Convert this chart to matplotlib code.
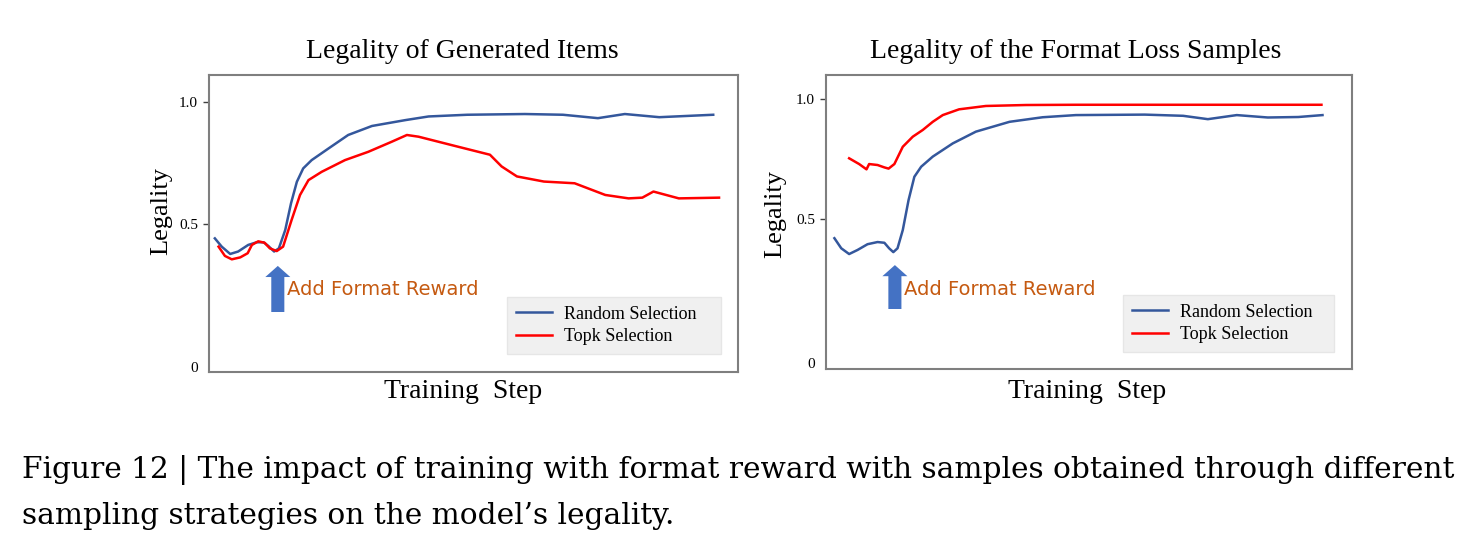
import matplotlib
matplotlib.use("Agg")
import matplotlib.pyplot as plt

# x in arbitrary training-step units (0..100 across the box)
left_rand_x = [1.1, 2.4, 4.0, 5.5, 7.4, 9.0, 10.3, 11.2, 12.3, 13.2, 14.4, 15.5, 16.6,
               17.8, 19.4, 22.6, 26.3, 30.8, 37.1, 41.5, 48.8, 59.7, 66.9, 73.5, 78.6,
               85.1, 95.3]
left_rand_y = [0.441, 0.407, 0.377, 0.387, 0.414, 0.425, 0.425, 0.410, 0.387, 0.400,
               0.475, 0.585, 0.673, 0.728, 0.762, 0.810, 0.865, 0.902, 0.926, 0.941,
               0.948, 0.951, 0.948, 0.934, 0.951, 0.938, 0.948]
left_topk_x = [1.8, 3.0, 4.3, 5.9, 7.3, 8.1, 9.3, 10.5, 11.5, 12.8, 14.0, 15.6, 17.2,
               18.8, 21.3, 25.7, 30.1, 34.5, 37.4, 39.6, 46.5, 53.1, 55.3, 58.2, 63.3,
               69.1, 74.9, 79.3, 81.9, 84.0, 88.8, 96.4]
left_topk_y = [0.407, 0.369, 0.355, 0.363, 0.380, 0.414, 0.429, 0.423, 0.400, 0.389,
               0.407, 0.516, 0.619, 0.680, 0.714, 0.762, 0.796, 0.837, 0.865, 0.858,
               0.820, 0.784, 0.736, 0.695, 0.674, 0.667, 0.619, 0.605, 0.608, 0.633,
               0.605, 0.608]

right_rand_x = [1.6, 2.9, 4.4, 6.0, 7.9, 9.8, 11.1, 12.0, 12.8, 13.6, 14.6, 15.7, 16.8,
                18.1, 20.3, 24.1, 28.5, 34.9, 41.2, 47.5, 60.6, 67.9, 72.6, 78.1, 84.0,
                89.8, 94.4]
right_rand_y = [0.420, 0.378, 0.354, 0.371, 0.395, 0.404, 0.401, 0.378, 0.362, 0.378,
                0.454, 0.579, 0.676, 0.718, 0.760, 0.815, 0.864, 0.905, 0.924, 0.933,
                0.935, 0.930, 0.916, 0.933, 0.923, 0.925, 0.933]
right_topk_x = [4.4, 6.3, 7.7, 8.2, 9.8, 11.1, 11.9, 13.0, 14.6, 16.5, 18.4, 20.3, 22.2,
                25.3, 30.4, 38.0, 47.5, 75.2, 94.2]
right_topk_y = [0.753, 0.729, 0.707, 0.729, 0.725, 0.715, 0.710, 0.729, 0.801, 0.843,
                0.871, 0.905, 0.933, 0.957, 0.971, 0.975, 0.976, 0.976, 0.976]

titles = ["Legality of Generated Items", "Legality of the Format Loss Samples"]
series_names = ["Random Selection", "Topk Selection"]
caption1 = ("Figure 12 | The impact of training with format reward with samples "
            "obtained through different")
caption2 = "sampling strategies on the model\u2019s legality."

blue = "#34579c"
red = "#ff0000"
arrow_blue = "#4472c4"
note_color = "#c55a11"
serif = "Liberation Serif"

fig = plt.figure(figsize=(14.7, 5.42), dpi=100)
ax1 = fig.add_axes([0.1422, 0.3137, 0.3599, 0.5479])
ax2 = fig.add_axes([0.5619, 0.3192, 0.3578, 0.5424])

panels = [
    (ax1, left_rand_x, left_rand_y, left_topk_x, left_topk_y, (-0.107, 1.111), -0.085,
     (13.0, 0.328, 0.139), (14.7, 0.23), (0.563, 0.064, 0.405, 0.185)),
    (ax2, right_rand_x, right_rand_y, right_topk_x, right_topk_y, (-0.125, 1.1), -0.1,
     (13.1, 0.308, 0.125), (14.8, 0.208), (0.565, 0.058, 0.401, 0.194)),
]

for ax, rx, ry, tx, ty, ylim, zero_pos, arr, note, leg_box in panels:
    ax.plot(rx, ry, color=blue, lw=1.8, label=series_names[0], solid_joinstyle="round")
    ax.plot(tx, ty, color=red, lw=1.8, label=series_names[1], solid_joinstyle="round")
    ax.set_xlim(0, 100)
    ax.set_ylim(*ylim)
    ax.set_xticks([])
    ax.set_yticks([zero_pos, 0.5, 1.0], ["0", "0.5", "1.0"])
    ax.tick_params(axis="y", length=4.3, width=1, color="#404040", pad=3.6,
                   labelsize=11)
    ax.yaxis.get_major_ticks()[0].tick1line.set_visible(False)
    for lab in ax.get_yticklabels():
        lab.set_fontfamily(serif)
    for sp in ax.spines.values():
        sp.set_color("#7f7f7f")
        sp.set_linewidth(1.5)

    ax.annotate("", xy=(arr[0], arr[1]), xytext=(arr[0], arr[2]),
                arrowprops=dict(arrowstyle="simple,head_length=8,head_width=18,tail_width=9.4",
                                mutation_scale=1, color=arrow_blue, shrinkA=0, shrinkB=0, lw=0))
    ax.text(note[0], note[1], "Add Format Reward", color=note_color, fontsize=14,
            family="DejaVu Sans", va="center", ha="left")

    leg = ax.legend(loc="center", bbox_to_anchor=leg_box, mode="expand",
                    prop={"family": serif, "size": 13}, frameon=True, fancybox=False,
                    handlelength=2.0, handletextpad=0.65, labelspacing=0.3,
                    borderpad=0.5, borderaxespad=0)
    leg.get_frame().set_facecolor("#f0f0f0")
    leg.get_frame().set_edgecolor("#e6e6e6")
    leg.get_frame().set_alpha(1)

fig.text(462 / 1470, 1 - 52 / 542, titles[0], ha="center", va="center",
         family=serif, fontsize=20)
fig.text(1076 / 1470, 1 - 52 / 542, titles[1], ha="center", va="center",
         family=serif, fontsize=20)
for cx in (463, 1087):
    fig.text(cx / 1470, 1 - 392 / 542, "Training  Step", ha="center", va="center",
             family=serif, fontsize=20)
for cx, cy in ((161, 211), (775, 214)):
    fig.text(cx / 1470, 1 - cy / 542, "Legality", ha="center", va="center",
             rotation=90, family=serif, fontsize=19)

fig.text(22 / 1470, 1 - 470 / 542, caption1, ha="left", va="center",
         family="DejaVu Serif", fontsize=21.3)
fig.text(22 / 1470, 1 - 516 / 542, caption2, ha="left", va="center",
         family="DejaVu Serif", fontsize=21.3)

fig.savefig("out.png", dpi=100, facecolor="white")
